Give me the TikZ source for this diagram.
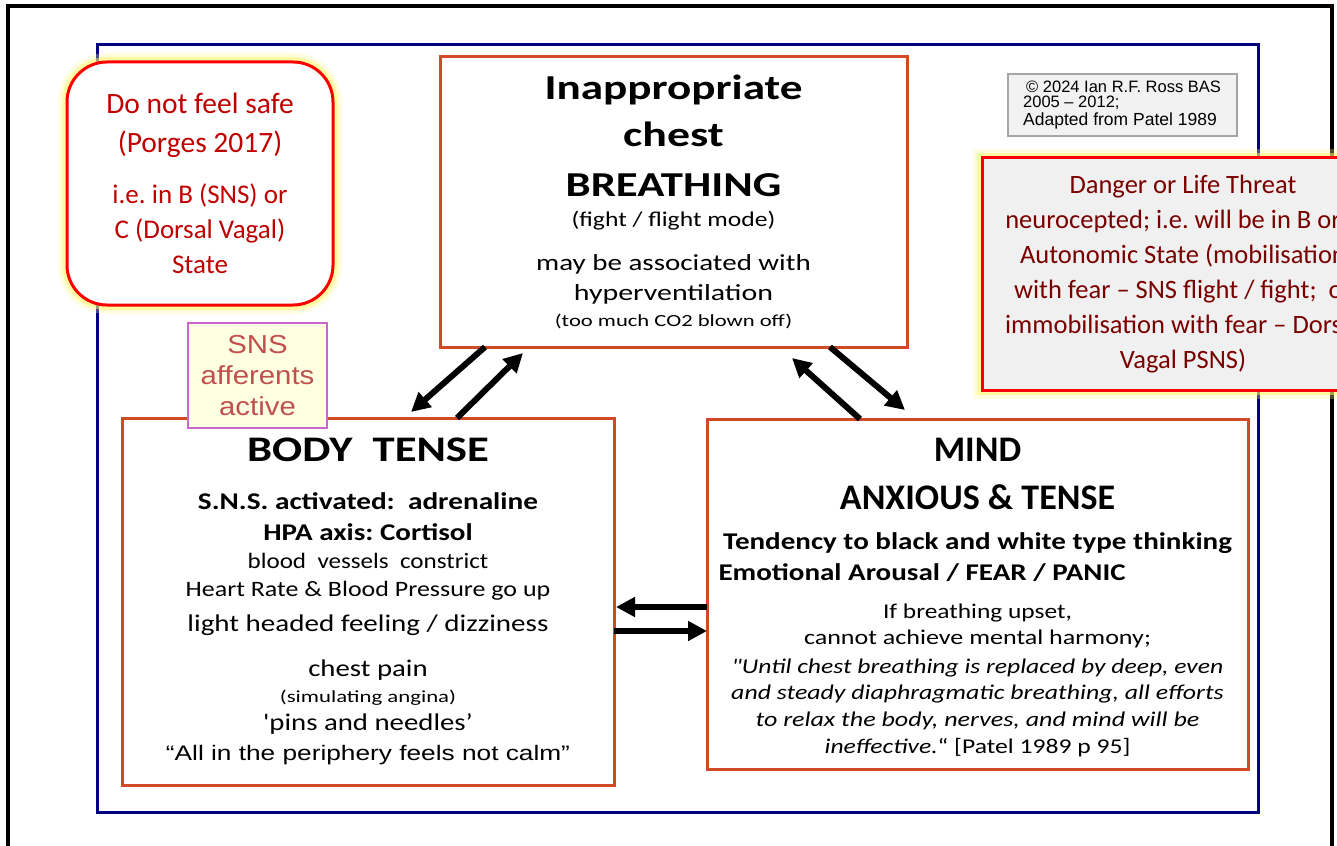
\documentclass[tikz,border=0pt]{standalone}
\usepackage{fontspec}
\setmainfont{Carlito}[Ligatures=TeXOff]
\newfontfamily\arialfont{Liberation Sans}[Ligatures=TeXOff]
\usepackage{graphicx}
\usetikzlibrary{arrows.meta}
\definecolor{boxorange}{RGB}{209,73,39}
\definecolor{navyline}{RGB}{0,0,128}
\definecolor{safered}{RGB}{192,0,0}
\definecolor{threatred}{RGB}{122,0,0}
\definecolor{threatfill}{RGB}{240,240,240}
\definecolor{snsedge}{RGB}{204,102,204}
\definecolor{snsfill}{RGB}{255,255,225}
\definecolor{snstext}{RGB}{192,80,77}
\definecolor{notegray}{RGB}{242,242,242}
\newcommand{\sz}[1]{\fontsize{#1}{0}\selectfont}
\newcommand{\wide}[2]{\scalebox{#1}[1]{#2}}
\lineskiplimit=-1000pt
\frenchspacing
\tikzset{
  glow/.style={preaction={draw=yellow!40, line width=18pt, opacity=0.3},
               preaction={draw=yellow!60, line width=10pt, opacity=0.5}},
  bigbox/.style={draw=boxorange, line width=3pt, fill=white},
  link/.style={line width=6pt, -{Triangle[length=19pt, width=19pt]}}
}

\begin{document}
\begin{tikzpicture}[x=1pt, y=-1pt,
    every node/.style={inner sep=0pt, outer sep=0pt, align=center,
                       font={\sz{22}\lineskiplimit=-1000pt\frenchspacing}}]
    \useasboundingbox (0,0) rectangle (1337,845);
    \clip (0,0) rectangle (1337,845);
    \fill[white] (0,0) rectangle (1337,845);

    % Frames
    \draw[line width=4pt] (8,900) -- (8,6) -- (1332,6) -- (1332,900);
    \draw[navyline, line width=3pt] (97,45) rectangle (1258,812);

    % Breathing
    \node[bigbox, minimum width=467, minimum height=290] (breath) at (673.5,202) {%
      \sz{35}\bfseries \wide{1.29}{Inappropriate}\\[47.4pt]
      \sz{35}\bfseries \wide{1.31}{chest}\\[50pt]
      \sz{35}\bfseries \wide{1.28}{BREATHING}\\[30pt]
      \sz{21}\wide{1.22}{(fight / flight mode)}\\[43.3pt]
      \sz{23}\wide{1.26}{may be associated with}\\[30.7pt]
      \sz{23}\wide{1.30}{hyperventilation}\\[26pt]
      \sz{17}\wide{1.33}{(too much CO2 blown off)}};

    % Body
    \node[bigbox, minimum width=492, minimum height=367] (body) at (368,601.5) {%
      \sz{36}\bfseries \wide{1.24}{BODY\ \ TENSE}\\[47.6pt]
      \sz{24}\bfseries \wide{1.22}{S.N.S. activated:\ \ adrenaline}\\[30.7pt]
      \sz{24}\bfseries \wide{1.21}{HPA axis: Cortisol}\\[28.3pt]
      \sz{22}\wide{1.14}{blood\ \ vessels\ \ constrict}\\[28.4pt]
      \sz{22}\wide{1.18}{Heart Rate \& Blood Pressure go up}\\[35pt]
      \sz{24}\wide{1.21}{light headed feeling / dizziness}\\[45pt]
      \sz{24}\wide{1.2}{chest pain}\\[26pt]
      \sz{17}\wide{1.34}{(simulating angina)}\\[28pt]
      \sz{24}\wide{1.2}{'pins and needles’}\\[29.3pt]
      \arialfont\sz{21}\wide{1.25}{“All in the periphery feels not calm”}};

    % Mind
    \node[bigbox, minimum width=541, minimum height=350] (mind) at (977.5,594) {%
      \sz{36}\bfseries \rule{0pt}{30pt}MIND\\[48.3pt]
      \sz{36}\bfseries ANXIOUS \& TENSE\\[40pt]
      \sz{24}\bfseries \wide{1.21}{Tendency to black and white type thinking}\\[30.7pt]
      \sz{24}\bfseries \makebox[508pt][l]{\hspace{-5pt}\wide{1.21}{Emotional Arousal / FEAR / PANIC}}\\[37.6pt]
      \sz{21}\wide{1.21}{If breathing upset,}\\[26.7pt]
      \sz{21}\wide{1.24}{cannot achieve mental harmony;}\\[28.3pt]
      \sz{21}\itshape \wide{1.22}{"Until chest breathing is replaced by deep, even}\\[26.7pt]
      \sz{21}\itshape \wide{1.23}{and steady diaphragmatic breathing, all efforts}\\[26.7pt]
      \sz{21}\itshape \wide{1.24}{to relax the body, nerves, and mind will be}\\[26.6pt]
      \sz{21}\wide{1.22}{{\itshape ineffective.}“ [Patel 1989 p 95]}};

    % Not safe
    \node[glow, draw=red, line width=3pt, fill=white, rounded corners=40pt,
          minimum width=266, minimum height=243, text=safered] (unsafe) at (200,183.5) {%
      \sz{29.5}Do not feel safe\\[38.4pt]
      \sz{29.5}(Porges 2017)\\[51.6pt]
      \sz{27}i.e. in B (SNS) or\\[35pt]
      \sz{27}C (Dorsal Vagal)\\[35pt]
      \sz{27}State};

    % SNS afferents
    \node[draw=snsedge, line width=2pt, fill=snsfill, minimum width=139, minimum height=105,
          text=snstext, font={\arialfont\sz{26}}] (afferent) at (257.5,375.5) {%
      \wide{1.13}{SNS}\\[31pt] \wide{1.13}{afferents}\\[31pt] \wide{1.13}{active}};

    % Copyright
    \node[draw=gray!70, line width=1.2pt, fill=notegray, minimum width=229, minimum height=62,
          align=left, font={\arialfont\sz{16.5}}] (credit) at (1122.5,105) {%
      \hspace*{3pt}© 2024 Ian R.F. Ross BAS\\[15pt]
      2005 – 2012;\\[18pt]
      \sz{17.5}Adapted from Patel 1989\hspace*{5pt}};

    % Danger
    \node[glow, draw=red, line width=3pt, fill=threatfill, minimum width=402, minimum height=232,
          text=threatred, font={\sz{26.5}\frenchspacing}] (threat) at (1183,274) {%
      Danger or Life Threat\\[35pt]
      neurocepted; i.e. will be in B or C\\[35pt]
      Autonomic State (mobilisation\\[35pt]
      with fear – SNS flight / fight;\ \ or\\[35pt]
      immobilisation with fear – Dorsal\\[35pt]
      Vagal PSNS)};

    % Arrows
    \draw[link] ([xshift=45pt]breath.south west) -- ([xshift=289pt,yshift=6pt]body.north west);
    \draw[link] ([xshift=335pt]body.north west) -- ([xshift=83pt,yshift=-6pt]breath.south west);
    \draw[link] ([xshift=-77pt]breath.south east) -- ([xshift=198pt,yshift=9pt]mind.north west);
    \draw[link] ([xshift=153pt]mind.north west) -- ([xshift=-115pt,yshift=-11pt]breath.south east);
    \draw[link] ([yshift=-13pt]mind.west) -- ([xshift=2pt,yshift=-5.5pt]body.east);
    \draw[link] ([yshift=-29.5pt]body.east) -- ([yshift=-37pt]mind.west);
\end{tikzpicture}
\end{document}
